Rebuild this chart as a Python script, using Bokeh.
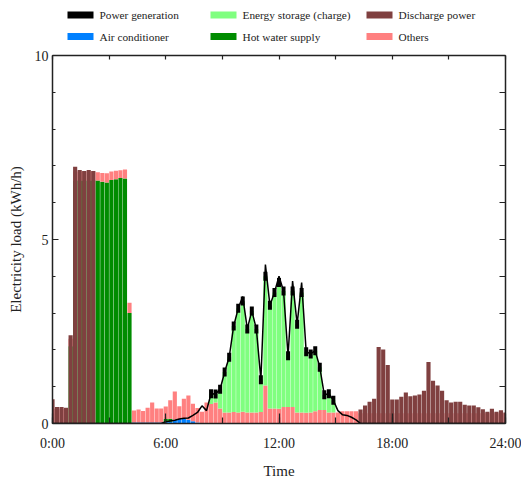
from bokeh.plotting import figure
from bokeh.layouts import column
from bokeh.models import ColumnDataSource, Range1d, FixedTicker, LinearAxis
from bokeh.core.properties import value
from bokeh.embed import file_html
from bokeh.resources import INLINE

# time grid (hours), 101 points from 0:00 to 24:00
step_index = list(range(101))
hours = [i * 0.24 for i in step_index]

tick_hours = [0, 6, 12, 18, 24]
tick_labels = ["0:00", "6:00", "12:00", "18:00", "24:00"]

series_names = ["Power generation", "Air conditioner", "Energy storage (charge)",
                "Hot water supply", "Discharge power", "Others"]

generation = [
    0, 0, 0, 0, 0, 0, 0, 0, 0, 0, 0, 0, 0, 0, 0, 0, 0, 0, 0, 0, 0, 0, 0, 0, 0,
    0.05, 0.07, 0.09, 0.12, 0.14, 0.15, 0.22, 0.30, 0.48, 0.35,
    0.81, 0.80, 0.93, 1.40, 1.80, 2.65, 3.13, 3.45, 2.57, 3.06,
    2.57, 1.19, 4.32, 3.21, 3.56, 4.00, 3.60, 1.84, 3.87, 2.70,
    3.83, 1.95, 1.89, 1.98, 1.53, 0.78, 0.81, 0.63, 0.35, 0.24,
    0.22, 0.17, 0.10,
    0, 0, 0, 0, 0, 0, 0, 0, 0, 0, 0, 0, 0, 0, 0, 0, 0, 0, 0, 0, 0, 0, 0, 0, 0,
    0, 0, 0, 0, 0, 0, 0, 0,
]

air_conditioner = [
    0, 0, 0, 0, 0, 0, 0, 0, 0, 0, 0, 0, 0, 0, 0, 0, 0, 0,
    0.03, 0.03, 0.03, 0.03, 0.03, 0.03, 0.03,
    0.04, 0.05, 0.10, 0.12, 0.12, 0.10, 0.06, 0.03,
    0, 0, 0, 0, 0, 0, 0, 0, 0, 0, 0, 0, 0, 0, 0, 0, 0, 0, 0, 0, 0, 0, 0, 0, 0, 0,
    0, 0, 0, 0, 0, 0, 0, 0, 0, 0, 0, 0, 0, 0, 0, 0, 0, 0, 0, 0, 0, 0, 0, 0, 0, 0,
    0, 0, 0, 0, 0, 0, 0, 0, 0, 0, 0, 0, 0, 0, 0, 0, 0, 0, 0, 0,
]

hot_water = [
    0, 0, 0, 0, 2.10,
    6.60, 6.60, 6.60, 6.60, 6.60,
    6.60, 6.57, 6.55, 6.62, 6.64, 6.67, 6.66, 3.00,
    0, 0, 0, 0, 0, 0, 0,
    0.08, 0.08,
    0, 0, 0, 0, 0, 0, 0, 0, 0, 0, 0, 0, 0, 0, 0, 0, 0, 0, 0, 0, 0, 0, 0, 0, 0, 0,
    0, 0, 0, 0, 0, 0, 0, 0, 0, 0, 0, 0, 0, 0, 0, 0, 0, 0, 0, 0, 0, 0, 0, 0, 0, 0,
    0, 0, 0, 0, 0, 0, 0, 0, 0, 0, 0, 0, 0, 0, 0, 0, 0, 0, 0, 0, 0, 0,
]

others = [
    0.40, 0.40, 0.40, 0.40, 0.20,
    0.25, 0.25, 0.25, 0.25, 0.25,
    0.23, 0.24, 0.25, 0.23, 0.23, 0.21, 0.24, 0.28,
    0.32, 0.35, 0.31, 0.40, 0.54, 0.38, 0.38, 0.34, 0.50, 0.77,
    0.35, 0.55, 0.66, 0.48, 0.39, 0.32, 0.57, 0.53, 0.57, 0.41,
    0.30, 0.30, 0.31, 0.30, 0.32, 0.30, 0.30, 0.30, 0.31, 1.03,
    0.41, 0.41, 0.40, 0.45, 0.45, 0.45, 0.30, 0.30, 0.29, 0.30,
    0.33, 0.37, 0.37, 0.30, 0.30, 0.30, 0.33, 0.33, 0.33, 0.33,
    0.28, 0.28, 0.28, 0.28, 0.28, 0.28, 0.28, 0.28, 0.28, 0.28, 0.28,
    0.28, 0.28, 0.28, 0.28, 0.28, 0.28, 0.28, 0.28, 0.28, 0.28, 0.28,
    0.28, 0.28, 0.28, 0.28, 0.28, 0.28, 0.28, 0.28, 0.28, 0.28, 0.28,
]

storage_charge = [
    0, 0, 0, 0, 0, 0, 0, 0, 0, 0, 0, 0, 0, 0, 0, 0, 0, 0, 0, 0,
    0, 0, 0, 0, 0, 0, 0, 0, 0, 0, 0, 0, 0, 0, 0,
    0.28, 0.23, 0.52, 1.10, 1.50, 2.34, 2.83, 3.01, 2.27, 2.76,
    2.27, 0.88, 2.97, 2.80, 3.15, 3.43, 3.15, 1.39, 3.15, 2.40,
    3.26, 1.66, 1.59, 1.65, 1.16, 0.41, 0.51, 0.33,
    0, 0, 0, 0, 0, 0, 0, 0, 0, 0, 0, 0, 0, 0, 0, 0, 0, 0, 0,
    0, 0, 0, 0, 0, 0, 0, 0, 0, 0, 0, 0, 0, 0, 0, 0, 0, 0, 0,
]

discharge = [
    0.66, 0.45, 0.45, 0.43, 2.40, 6.98, 6.89, 6.86, 6.89, 6.86,
    0, 0, 0, 0, 0, 0, 0, 0, 0, 0, 0, 0, 0, 0, 0, 0, 0, 0, 0, 0,
    0, 0, 0, 0, 0, 0, 0, 0, 0, 0, 0, 0, 0, 0, 0, 0, 0, 0, 0, 0,
    0, 0, 0, 0, 0, 0, 0, 0, 0, 0, 0, 0, 0, 0, 0, 0, 0, 0,
    0.38, 0.49, 0.59, 0.67, 2.08, 2.01, 1.59, 0.65, 0.65, 0.73,
    0.84, 0.74, 0.76, 0.79, 0.89, 1.67, 1.16, 1.03, 0.89, 0.63,
    0.57, 0.59, 0.59, 0.51, 0.49, 0.49, 0.44, 0.39, 0.32, 0.40,
    0.32, 0.36, 0.30,
]

COL_GEN = "#000000"
COL_AC = "#0080ff"
COL_CHG = "#80ff80"
COL_DIS = "#804040"
COL_HW = "#008c00"
COL_OTH = "#ff8080"
FONT = "Liberation Serif"
INK = "#222222"

FRAME_L, FRAME_R = 52, 505

# ---------------- legend strip ----------------
LEG_H = 45
leg = figure(width=521, height=LEG_H, x_range=Range1d(FRAME_L, FRAME_R), y_range=Range1d(LEG_H, 0),
             output_backend="svg", toolbar_location=None,
             min_border_left=FRAME_L, min_border_right=521 - FRAME_R,
             min_border_top=0, min_border_bottom=0)
leg.axis.visible = False
leg.grid.visible = False
leg.outline_line_color = None
leg_cols = [67, 210, 366]
leg_rows = [14.5, 36]
leg_colors = [COL_GEN, COL_AC, COL_CHG, COL_HW, COL_DIS, COL_OTH]
lx, ly, lt = [], [], []
for i, name in enumerate(series_names):
    c, r = divmod(i, 2)
    lx.append(leg_cols[c])
    ly.append(leg_rows[r])
    lt.append(name)
leg.rect(x=[x + 13 for x in lx], y=ly, width=26, height=7, fill_color=leg_colors, line_color=None)
leg.text(x=[x + 32 for x in lx], y=ly, text=lt, text_font=value(FONT), text_font_size="11.3px",
         text_baseline="middle", text_align="left", text_color=INK)

# ---------------- main chart ----------------
src = ColumnDataSource(dict(t=hours, ac=air_conditioner, hw=hot_water, oth=others,
                            chg=storage_charge, dis=discharge, gen=generation))
# square caps on top of every charging bar (top of the stacked load)
mk = [i for i in step_index if storage_charge[i] > 0]
msrc = ColumnDataSource(dict(
    t=[hours[i] for i in mk],
    top=[air_conditioner[i] + hot_water[i] + others[i] + storage_charge[i] for i in mk]))

p = figure(width=521, height=481 - LEG_H, x_range=Range1d(0, 24), y_range=Range1d(0, 10),
           output_backend="svg", toolbar_location=None,
           min_border_left=FRAME_L, min_border_right=521 - FRAME_R,
           min_border_top=55 - LEG_H, min_border_bottom=56)
p.xgrid.visible = False
p.ygrid.visible = False
p.outline_line_color = None

bw = 0.22
stack = p.vbar_stack(["ac", "hw", "oth", "chg"], x="t", width=bw, source=src,
                     color=[COL_AC, COL_HW, COL_OTH, COL_CHG], line_color=None)
p.vbar(x="t", top="dis", width=bw, source=src, fill_color=COL_DIS, line_color=None)
p.line(x="t", y="gen", source=src, line_color="black", line_width=1.5)
p.rect(x="t", y="top", width=4, height=9, width_units="screen", height_units="screen",
       source=msrc, fill_color="black", line_color=None)


def style_axis(ax, major_in=6, minor_in=3):
    ax.axis_line_color = INK
    ax.axis_line_width = 1.5
    ax.major_tick_line_color = INK
    ax.minor_tick_line_color = INK
    ax.major_tick_line_width = 1.2
    ax.minor_tick_line_width = 1.2
    ax.major_tick_in = major_in
    ax.major_tick_out = 0
    ax.minor_tick_in = minor_in
    ax.minor_tick_out = 0
    ax.major_label_text_font = FONT
    ax.major_label_text_font_size = "14px"
    ax.major_label_text_color = INK
    ax.axis_label_text_font = FONT
    ax.axis_label_text_font_size = "15px"
    ax.axis_label_text_font_style = "normal"
    ax.axis_label_text_color = INK


xa = p.xaxis[0]
xa.ticker = FixedTicker(ticks=tick_hours, minor_ticks=[0, 3, 6, 9, 12, 15, 18, 21, 24])
xa.major_label_overrides = {h: s for h, s in zip(tick_hours, tick_labels)}
xa.axis_label = "Time"
style_axis(xa, 10, 6)
xa.major_label_standoff = 12
xa.axis_label_standoff = 9

ya = p.yaxis[0]
ya.ticker = FixedTicker(ticks=[0, 5, 10], minor_ticks=[0, 1, 2, 3, 4, 5, 6, 7, 8, 9, 10])
ya.axis_label = "Electricity load (kWh/h)"
style_axis(ya, 6, 3)
ya.major_label_standoff = 4
ya.axis_label_standoff = 8

# top / right frame axes: tick marks only, no labels
top_ax = LinearAxis(ticker=FixedTicker(ticks=[], minor_ticks=[0, 3, 6, 9, 12, 15, 18, 21, 24]))
style_axis(top_ax, 0, 4)
top_ax.major_label_standoff = 0
top_ax.axis_label_standoff = 0
p.add_layout(top_ax, "above")
right_ax = LinearAxis(ticker=FixedTicker(ticks=[], minor_ticks=[0, 1, 2, 3, 4, 5, 6, 7, 8, 9, 10]))
style_axis(right_ax, 0, 6)
right_ax.major_label_standoff = 0
right_ax.axis_label_standoff = 0
p.add_layout(right_ax, "right")

layout = column(leg, p, spacing=0)
open("out.html", "w").write(file_html(layout, INLINE))
